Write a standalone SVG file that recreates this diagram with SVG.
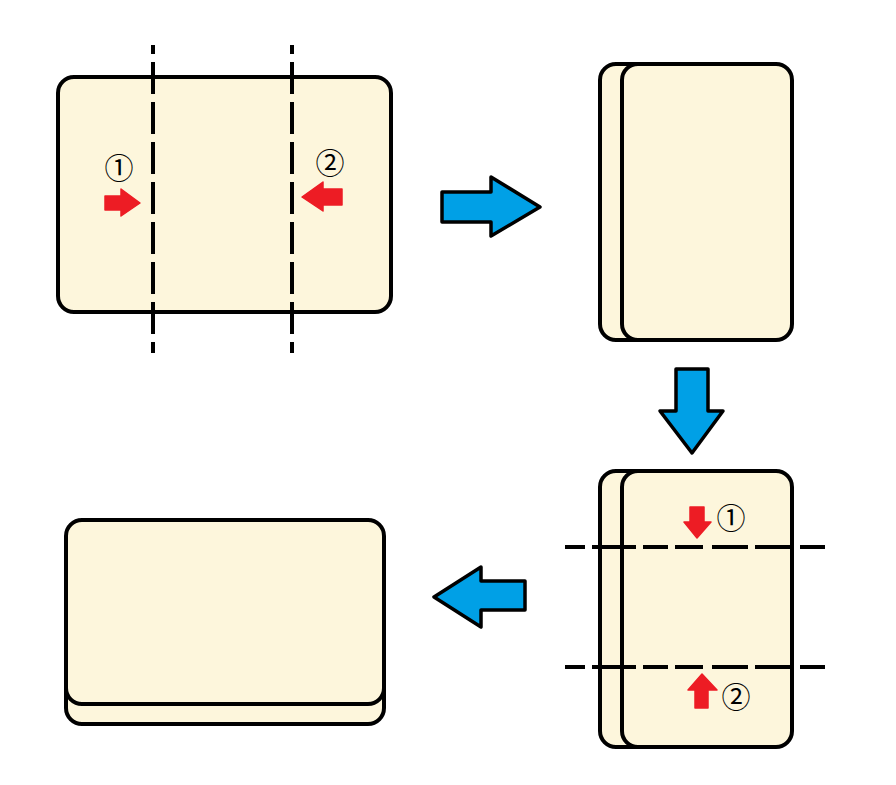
<svg xmlns="http://www.w3.org/2000/svg" width="896" height="785" viewBox="0 0 896 785">
<style>
.card{fill:#fdf6dc;stroke:#000;stroke-width:4}
.cut{fill:none;stroke:#000;stroke-width:4}
.red{fill:#ed1c24;stroke:#ed1c24;stroke-width:1.5;stroke-linejoin:round}
.blue{fill:#00a0e6;stroke:#000;stroke-width:3.5;stroke-linejoin:round}
.lbl{font-family:"Noto Sans CJK JP","DejaVu Sans",sans-serif;font-size:29px;fill:#000;text-anchor:middle}
</style>
<rect width="896" height="785" fill="#fff"/>
<g id="step1">
  <rect class="card" x="58" y="77" width="333" height="235" rx="16"/>
  <line class="cut" x1="153" y1="45" x2="153" y2="353" stroke-dasharray="32 8" stroke-dashoffset="23"/>
  <line class="cut" x1="292" y1="45" x2="292" y2="353" stroke-dasharray="32 8" stroke-dashoffset="23"/>
  <polygon class="red" points="105,196 121,196 121,189 140,203 121,216 121,210 105,210"/>
  <polygon class="red" points="342,189 323,189 323,182 302,197 323,211 323,205 342,205"/>
  <text class="lbl" x="119" y="179">①</text>
  <text class="lbl" x="330" y="174">②</text>
</g>
<g id="step2">
  <rect class="card" x="600" y="64" width="180" height="276" rx="16"/>
  <rect class="card" x="622" y="64" width="170" height="276" rx="16"/>
</g>
<g id="step3">
  <rect class="card" x="600" y="471" width="180" height="276" rx="16"/>
  <rect class="card" x="622" y="471" width="170" height="276" rx="16"/>
  <line class="cut" x1="565" y1="547" x2="825" y2="547" stroke-dasharray="20 7 44 7 25 7 28 9 36 7 38 7 25"/>
  <line class="cut" x1="565" y1="667" x2="825" y2="667" stroke-dasharray="20 7 44 7 25 7 28 9 36 7 38 7 25"/>
  <polygon class="red" points="690,507 704,507 704,522 711,522 697,538 684,522 690,522"/>
  <polygon class="red" points="695,708 708,708 708,690 717,690 702,674 688,690 695,690"/>
  <text class="lbl" x="731" y="529">①</text>
  <text class="lbl" x="736" y="708">②</text>
</g>
<g id="step4">
  <rect class="card" x="66" y="540" width="318" height="184" rx="16"/>
  <rect class="card" x="66" y="520" width="318" height="184" rx="16"/>
</g>
<g id="connectors">
  <polygon class="blue" points="442,192 491,192 491,177 540,207 491,236 491,222 442,222"/>
  <polygon class="blue" points="676,369 708,369 708,411 723,411 692,453 660,411 676,411"/>
  <polygon class="blue" points="525,581 481,581 481,567 434,597 481,627 481,610 525,610"/>
</g>
</svg>
